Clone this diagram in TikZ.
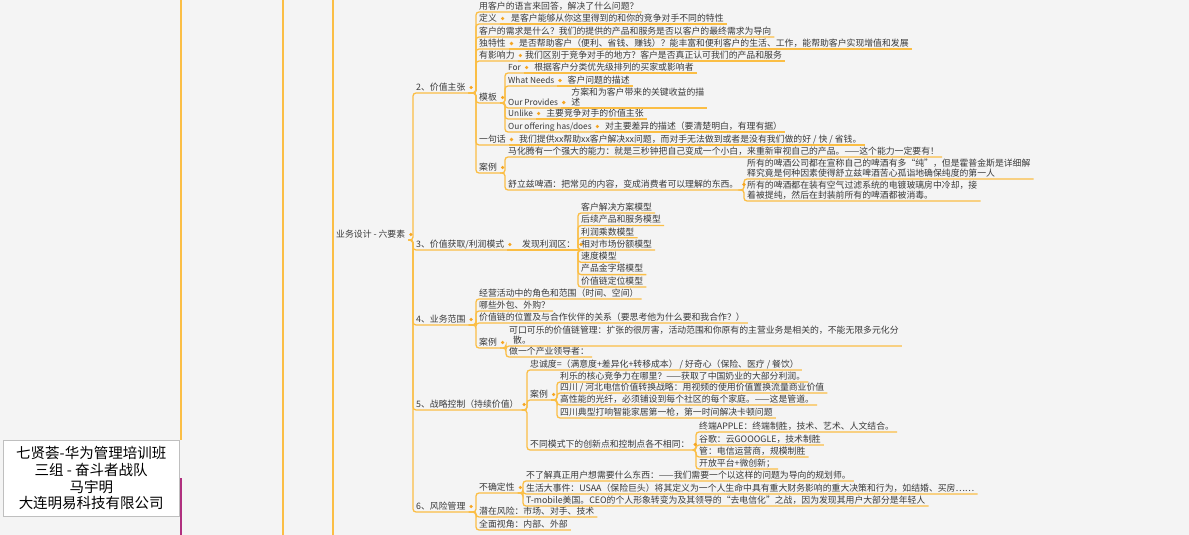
\documentclass[tikz,border=0pt]{standalone}
\usepackage{fontspec}
\setmainfont{Noto Sans CJK SC}
\usetikzlibrary{calc}
\definecolor{bgc}{HTML}{F4F4F4}
\definecolor{lnc}{HTML}{FBBE45}
\definecolor{dtc}{HTML}{F5A623}
\definecolor{puc}{HTML}{B0307F}
\definecolor{txc}{HTML}{3A3A3A}
\newcommand\fs{\fontsize{8.85}{10}\selectfont}
\newcommand\conn[3]{\draw[br] (#1.south east) -- (#1.south east -| #3) |- (#2.south east);}
\newcommand\pairc[2]{\draw[br] (#1.south east) -- (#2.south east);}
\newcommand\pdot[1]{\node[dotn] at ($(#1.south east)+(2.5,-5.5)$) {};}
\begin{document}
\begin{tikzpicture}[x=1pt,y=-1pt,
  br/.style={draw=lnc, line width=1.3pt, rounded corners=3pt},
  t/.style={anchor=south west, inner xsep=3pt, inner ysep=1.6pt, font=\fs, text=txc, text height=7.3pt, text depth=1pt},
  tl/.style={t, font=\fontsize{8.3}{10}\selectfont},
  tt/.style={anchor=south west, inner xsep=3pt, inner ysep=1.6pt, font=\fs, text=txc, align=left},
  dotn/.style={circle, fill=dtc, minimum size=3.6pt, inner sep=0pt}]
\useasboundingbox (0,0) rectangle (1189,535);
\fill[bgc] (0,0) rectangle (1189,535);
% left frame lines
\draw[draw=lnc, line width=1.3pt] (181,0) -- (181,440);
\draw[draw=puc, line width=1.3pt] (181,478) -- (181,535);
\draw[draw=lnc, line width=1.3pt] (283,0) -- (283,535);
\draw[draw=lnc, line width=1.3pt] (333,0) -- (333,535);
% title box
\node[draw=gray!50, fill=white, line width=0.5pt, minimum width=176pt, minimum height=76pt, anchor=north west, align=center, font=\fontsize{14.5}{16.8}\selectfont, text=black, inner sep=1pt] (title) at (3,440)
 {七贤荟-华为管理培训班\\三组 - 奋斗者战队\\马宇明\\大连明易科技有限公司};
% level: 业务设计
\node[t] (B) at (333,240) {业务设计 - 六要素};
\coordinate (vB) at (413,0);
\node[t] (S2) at (413,93) {2、价值主张};
\node[t] (S3) at (413,250) {3、价值获取/利润模式};
\node[t] (S4) at (413,325) {4、业务范围};
\node[t] (S5) at (413,410) {5、战略控制（持续价值）};
\node[t] (S6) at (413,512) {6、风险管理};
\foreach \c in {S2,S3,S4,S5,S6} {\conn{B}{\c}{vB}}
\pdot{B}
% ---- section 2
\coordinate (v2) at (476,0);
\node[t] (a0) at (476,12) {用客户的语言来回答，解决了什么问题？};
\node[t] (a1) at (476,24) {定义};
\node[t] (a1c) at (508,24) {是客户能够从你这里得到的和你的竞争对手不同的特性};
\node[t] (a2) at (476,37) {客户的需求是什么？我们的提供的产品和服务是否以客户的最终需求为导向};
\node[t] (a3) at (476,49) {独特性};
\node[t] (a3c) at (516,49) {是否帮助客户（便利、省钱、赚钱）？能丰富和便利客户的生活、工作，能帮助客户实现增值和发展};
\node[t] (a4) at (476,61) {有影响力};
\node[t] (a4c) at (522,61) {我们区别于竞争对手的地方？客户是否真正认可我们的产品和服务};
\node[t] (a5) at (476,103) {模板};
\node[t] (a6) at (476,145) {一句话};
\node[t] (a6c) at (516,145) {我们提供xx帮助xx客户解决xx问题，而对手无法做到或者是没有我们做的好 / 快 / 省钱。};
\node[t] (a7) at (476,173) {案例};
\foreach \c in {a0,a1,a2,a3,a4,a5,a6,a7} {\conn{S2}{\c}{v2}}
\pdot{S2}
\foreach \p in {a1,a3,a4,a6} {\pairc{\p}{\p c}\pdot{\p}}
% template
\coordinate (v5) at (505,0);
\node[tl] (m1) at (505,73) {For};
\node[t] (m1c) at ($(m1.south east)+(7,0)$) {根据客户分类优先级排列的买家或影响者};
\node[tl] (m2) at (505,86) {What Needs};
\node[t] (m2c) at ($(m2.south east)+(7,0)$) {客户问题的描述};
\node[tl] (m3) at (505,108) {Our Provides};
\node[tt] (m3c) at ($(m3.south east)+(7,0)$) {方案和为客户带来的关键收益的描\\述};
\node[tl] (m4) at (505,119) {Unlike};
\node[t] (m4c) at ($(m4.south east)+(7,0)$) {主要竞争对手的价值主张};
\node[tl] (m5) at (505,132) {Our offering has/does};
\node[t] (m5c) at ($(m5.south east)+(7,0)$) {对主要差异的描述（要清楚明白，有理有据）};
\foreach \c in {m1,m2,m3,m4,m5} {\conn{a5}{\c}{v5}}
\pdot{a5}
\foreach \p in {m1,m2,m3,m4,m5} {\pairc{\p}{\p c}\pdot{\p}}
% case
\coordinate (v7) at (505,0);
\node[t] (c1) at (505,157) {马化腾有一个强大的能力：就是三秒钟把自己变成一个小白，来重新审视自己的产品。——这个能力一定要有！};
\node[t] (c2) at (505,190) {舒立兹啤酒：把常见的内容，变成消费者可以理解的东西。};
\foreach \c in {c1,c2} {\conn{a7}{\c}{v7}}
\pdot{a7}
\coordinate (vc2) at (744,0);
\node[tt] (d1) at (744,179) {所有的啤酒公司都在宣称自己的啤酒有多“纯”，但是霍普金斯是详细解\\释究竟是何种因素使得舒立兹啤酒苦心孤诣地确保纯度的第一人};
\node[tt] (d2) at (744,201) {所有的啤酒都在装有空气过滤系统的电镀玻璃房中冷却，接\\着被提纯，然后在封装前所有的啤酒都被消毒。};
\foreach \c in {d1,d2} {\conn{c2}{\c}{vc2}}
\pdot{c2}
% ---- section 3
\node[t] (s3c) at (519,250) {发现利润区：};
\pairc{S3}{s3c}\pdot{S3}
\coordinate (v3) at (578,0);
\node[t] (p1) at (578,213) {客户解决方案模型};
\node[t] (p2) at (578,225.5) {后续产品和服务模型};
\node[t] (p3) at (578,237.8) {利润乘数模型};
\node[t] (p4) at (578,250) {相对市场份额模型};
\node[t] (p5) at (578,262.3) {速度模型};
\node[t] (p6) at (578,274.6) {产品金字塔模型};
\node[t] (p7) at (578,287) {价值链定位模型};
\foreach \c in {p1,p2,p3,p4,p5,p6,p7} {\conn{s3c}{\c}{v3}}
\pdot{s3c}
% ---- section 4
\coordinate (v4) at (476,0);
\node[t] (e1) at (476,299) {经营活动中的角色和范围（时间、空间）};
\node[t] (e2) at (476,311) {哪些外包、外购？};
\node[t] (e3) at (476,323) {价值链的位置及与合作伙伴的关系（要思考他为什么要和我合作？）};
\node[t] (e4) at (476,348) {案例};
\foreach \c in {e1,e2,e3,e4} {\conn{S4}{\c}{v4}}
\pdot{S4}
\coordinate (ve4) at (506,0);
\node[tt] (f1) at (506,346) {可口可乐的价值链管理：扩张的很厉害，活动范围和你原有的主营业务是相关的，不能无限多元化分\\\hspace{4pt}散。};
\node[t] (f2) at (506,357) {做一个产业领导者：};
\foreach \c in {f1,f2} {\conn{e4}{\c}{ve4}}
\pdot{e4}
% ---- section 5
\coordinate (v5s) at (527,0);
\node[t] (g1) at (527,370) {忠诚度=（满意度+差异化+转移成本） / 好奇心（保险、医疗 / 餐饮）};
\node[t] (g2) at (527,400) {案例};
\node[t] (g3) at (527,450) {不同模式下的创新点和控制点各不相同：};
\foreach \c in {g1,g2,g3} {\conn{S5}{\c}{v5s}}
\pdot{S5}
\coordinate (vg2) at (557,0);
\node[t] (h1) at (557,382) {利乐的核心竞争力在哪里？——获取了中国奶业的大部分利润。};
\node[t] (h2) at (557,393) {四川 / 河北电信价值转换战略：用视频的使用价值置换流量商业价值};
\node[t] (h3) at (557,405) {高性能的光纤，必须铺设到每个社区的每个家庭。——这是管道。};
\node[t] (h4) at (557,418) {四川典型打响智能家居第一枪，第一时间解决卡顿问题};
\foreach \c in {h1,h2,h3,h4} {\conn{g2}{\c}{vg2}}
\pdot{g2}
\coordinate (vg3) at (696,0);
\node[t] (k1) at (696,432) {终端APPLE：终端制胜，技术、艺术、人文结合。};
\node[t] (k2) at (696,445) {谷歌：云GOOOGLE，技术制胜};
\node[t] (k3) at (696,457) {管：电信运营商，规模制胜};
\node[t] (k4) at (696,469) {开放平台+微创新；};
\foreach \c in {k1,k2,k3,k4} {\conn{g3}{\c}{vg3}}
\pdot{g3}
% ---- section 6
\coordinate (v6) at (476,0);
\node[t] (r1) at (476,493) {不确定性};
\node[t] (r2) at (476,517) {潜在风险：市场、对手、技术};
\node[t] (r3) at (476,530) {全面视角：内部、外部};
\foreach \c in {r1,r2,r3} {\conn{S6}{\c}{v6}}
\pdot{S6}
\coordinate (vr1) at (523,0);
\node[t] (q1) at (523,481) {不了解真正用户想需要什么东西：——我们需要一个以这样的问题为导向的规划师。};
\node[t] (q2) at (523,494) {生活大事件：USAA（保险巨头）将其定义为一个人生命中具有重大财务影响的重大决策和行为，如结婚、买房……};
\node[t] (q3) at (523,506) {T-mobile美国。CEO的个人形象转变为及其领导的“去电信化”之战，因为发现其用户大部分是年轻人};
\foreach \c in {q1,q2,q3} {\conn{r1}{\c}{vr1}}
\pdot{r1}
\end{tikzpicture}
\end{document}
